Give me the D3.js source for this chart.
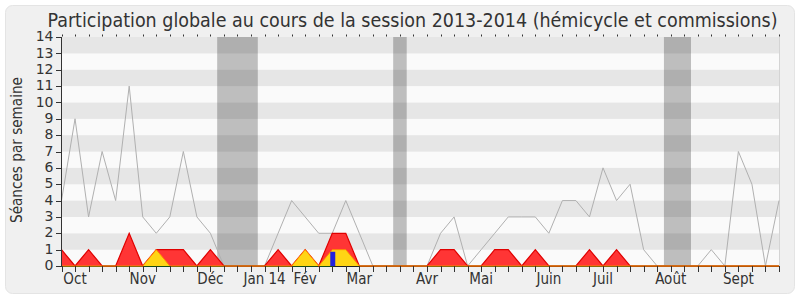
<!DOCTYPE html>
<html>
<head>
<meta charset="utf-8">
<script src="https://cdn.jsdelivr.net/npm/d3@7"></script>
<style>
  html, body { margin: 0; padding: 0; background: #ffffff; }
  svg { display: block; }
  text { font-family: "DejaVu Sans Condensed", "DejaVu Sans", sans-serif; font-stretch: condensed; fill: #333; }
  text.ytick { font-family: "DejaVu Sans", sans-serif; font-stretch: normal; }
</style>
</head>
<body>
<script>
// ---- data (one value per week of the session) ----
const seancesTotal = [4,9,3,7,4,11,3,2,3,7,3,2,0,0,0,0,2,4,3,2,2,4,2,0,0,0,0,0,2,3,0,1,2,3,3,3,2,4,4,3,6,4,5,1,0,0,0,0,1,0,7,5,0,4];
const presences    = [1,0,1,0,0,2,0,1,1,1,0,1,0,0,0,0,1,0,1,0,2,2,0,0,0,0,0,0,1,1,0,0,1,1,0,1,0,0,0,1,0,1,0,0,0,0,0,0,0,0,0,0,0,0];
const participations = [0,0,0,0,0,0,0,1,0,0,0,0,0,0,0,0,0,0,1,0,1,1,0,0,0,0,0,0,0,0,0,0,0,0,0,0,0,0,0,0,0,0,0,0,0,0,0,0,0,0,0,0,0,0];
const questions    = [0,0,0,0,0,0,0,0,0,0,0,0,0,0,0,0,0,0,0,0,0.87,0,0,0,0,0,0,0,0,0,0,0,0,0,0,0,0,0,0,0,0,0,0,0,0,0,0,0,0,0,0,0,0,0];
const commissions  = [0,0,0,0,0,0,0,0,0,0,0,0,0,0,0,0,0,0,0,0,0,0.15,0,0,0,0,0,0,0,0,0,0,0,0,0,0,0,0,0,0,0,0,0,0,0,0,0,0,0,0,0,0,0,0];
const vacances     = [12,13,14,25,45,46];
const monthLabels  = ["Oct","Nov","Déc","Jan 14","Fév","Mar","Avr","Mai","Juin","Juil","Août","Sept"];
const monthWeeks   = [1,6,11,15,18,22,27,31,36,40,45,50];
const yTicks       = d3.range(0, 15);
const titleText    = "Participation globale au cours de la session 2013-2014 (hémicycle et commissions)";
const yTitle       = "Séances par semaine";

const W = 800, H = 300;
const nWeeks = seancesTotal.length;
const x = d3.scaleLinear().domain([0, nWeeks - 1]).range([61.5, 779]);
const y = d3.scaleLinear().domain([0, 14]).range([266, 37]);

const svg = d3.select("body").append("svg").attr("width", W).attr("height", H);

// panel
svg.append("rect").attr("x", 5.5).attr("y", 5.5).attr("width", 789).attr("height", 288)
  .attr("rx", 7).attr("fill", "#f0f0f0").attr("stroke", "#e4e4e4");

// stripes
const plot = svg.append("g");
d3.range(0, 14).forEach(v => {
  plot.append("rect").attr("x", x(0)).attr("width", x(nWeeks - 1) - x(0) + 0.5)
    .attr("y", y(v + 1)).attr("height", y(v) - y(v + 1))
    .attr("fill", v % 2 === 1 ? "#e6e6e6" : "#fafafa");
});

// vacation bands (merge consecutive weeks)
const runs = [];
vacances.forEach(w => {
  const last = runs[runs.length - 1];
  if (last && last[1] === w - 1) last[1] = w; else runs.push([w, w]);
});
runs.forEach(([a, b]) => {
  plot.append("rect").attr("x", x(a - 0.5)).attr("width", x(b + 0.5) - x(a - 0.5))
    .attr("y", y(14)).attr("height", y(0) - y(14))
    .attr("fill", "rgba(0,0,0,0.24)");
});

// right border
svg.append("line").attr("x1", 779.5).attr("x2", 779.5).attr("y1", y(14)).attr("y2", y(0))
  .attr("stroke", "#d4d4d4");

// axis line base
svg.append("line").attr("x1", x(0)).attr("x2", 780).attr("y1", 266.5).attr("y2", 266.5)
  .attr("stroke", "#222");

// total seances line
const line = d3.line().x((d, i) => x(i)).y(d => y(d));
svg.append("path").attr("d", line(seancesTotal)).attr("fill", "none")
  .attr("stroke", "#b0b0b0").attr("stroke-width", 1);

const area = d3.area().x((d, i) => x(i)).y0(y(0)).y1(d => y(d));

// commissions (green)
svg.append("path").attr("d", area(commissions)).attr("fill", "#44dd44");
svg.append("path").attr("d", line(commissions)).attr("fill", "none").attr("stroke", "#0a7a0a").attr("stroke-width", 1);

// presences (red)
svg.append("path").attr("d", area(presences)).attr("fill", "#ff3535");
svg.append("path").attr("d", line(presences)).attr("fill", "none").attr("stroke", "#e00000").attr("stroke-width", 1.2);

// participations (yellow)
svg.append("path").attr("d", area(participations)).attr("fill", "#ffd514");
svg.append("path").attr("d", line(participations)).attr("fill", "none")
  .attr("stroke", "#ff8a00").attr("stroke-width", 1);

// questions (blue bars)
questions.forEach((v, i) => {
  if (v > 0) {
    svg.append("rect").attr("x", x(i) - 2).attr("width", 5)
      .attr("y", y(v)).attr("height", y(0) - y(v)).attr("fill", "#2222dd");
  }
});

// y axis
const gy = svg.append("g");
gy.append("line").attr("x1", 61.5).attr("x2", 61.5).attr("y1", y(14)).attr("y2", 267).attr("stroke", "#333");
yTicks.forEach(t => {
  gy.append("line").attr("x1", 56).attr("x2", 61.5).attr("y1", Math.round(y(t)) + 0.5).attr("y2", Math.round(y(t)) + 0.5).attr("stroke", "#333");
  gy.append("text").attr("class", "ytick").attr("x", 53.5).attr("y", y(t) + 4.2).attr("text-anchor", "end")
    .attr("font-size", 14).text(t);
});

// x axis ticks (bottom + top dots)
d3.range(nWeeks).forEach(k => {
  const xx = Math.round(x(k)) + 0.5;
  svg.append("line").attr("x1", xx).attr("x2", xx).attr("y1", 266).attr("y2", 272).attr("stroke", "#333");
  svg.append("line").attr("x1", xx).attr("x2", xx).attr("y1", 34.5).attr("y2", 36.5).attr("stroke", "#333");
});
monthLabels.forEach((m, i) => {
  svg.append("text").attr("x", x(monthWeeks[i])).attr("y", 283.5).attr("text-anchor", "middle")
    .attr("font-size", 15).text(m);
});

// title
svg.append("text").attr("x", 47.5).attr("y", 27.3).attr("font-size", 19)
  .attr("textLength", 730).attr("lengthAdjust", "spacingAndGlyphs").text(titleText);

// y title
svg.append("text").attr("transform", "translate(22,150) rotate(-90)").attr("text-anchor", "middle")
  .attr("font-size", 15.5).attr("textLength", 146).attr("lengthAdjust", "spacingAndGlyphs").text(yTitle);
</script>
</body>
</html>
